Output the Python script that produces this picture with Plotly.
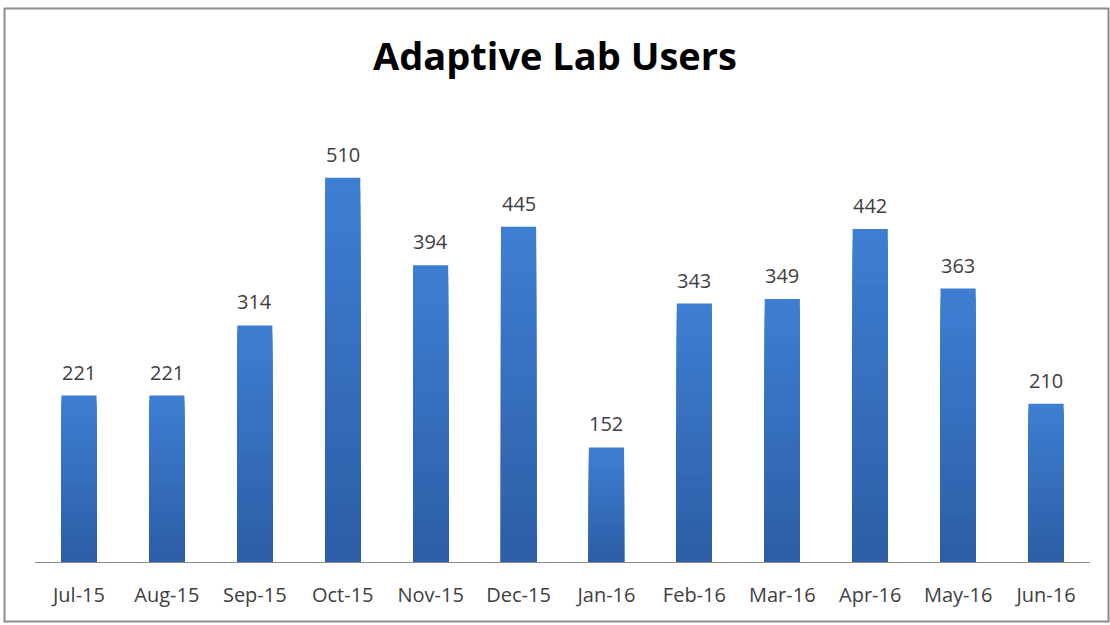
import plotly.graph_objects as go

months = ["Jul-15", "Aug-15", "Sep-15", "Oct-15", "Nov-15", "Dec-15",
          "Jan-16", "Feb-16", "Mar-16", "Apr-16", "May-16", "Jun-16"]
users = [221, 221, 314, 510, 394, 445, 152, 343, 349, 442, 363, 210]

W, H = 1110, 625
L, R, T, B = 35, 20, 110, 63
pw, ph = W - L - R, H - T - B

TOP_RGB = (62, 126, 210)
BOT_RGB = (44, 93, 164)
STEPS = 30

fig = go.Figure()
# vertical gradient fill: overlaid bars, each a fraction of the full bar
for k in range(STEPS, 0, -1):
    f = k / STEPS
    c = tuple(round(BOT_RGB[i] + (TOP_RGB[i] - BOT_RGB[i]) * f) for i in range(3))
    fig.add_trace(go.Bar(
        x=months, y=[v * f for v in users],
        marker=dict(color="rgb(%d,%d,%d)" % c, line=dict(width=0)),
        hoverinfo="skip" if k != STEPS else None,
    ))

for m, v in zip(months, users):
    fig.add_annotation(x=m, y=v, text=str(v), showarrow=False,
                       yanchor="bottom", yshift=8,
                       font=dict(family="Open Sans", size=20, color="#404040"))

# outer gray frame
x0 = (4.5 - L) / pw
x1 = (1108.5 - L) / pw
y0 = 1 - (621.5 - T) / ph
y1 = 1 - (8.5 - T) / ph
fig.add_shape(type="rect", xref="paper", yref="paper", x0=x0, x1=x1, y0=y0, y1=y1,
              line=dict(color="#8c8c8c", width=2), fillcolor="rgba(0,0,0,0)", layer="below")

fig.update_layout(
    width=W, height=H,
    margin=dict(l=L, r=R, t=T, b=B),
    paper_bgcolor="white", plot_bgcolor="white",
    title=dict(text="<b>Adaptive Lab Users</b>", x=0.5, xanchor="center",
               y=1 - 57 / H, yanchor="middle",
               font=dict(family="Open Sans", size=38, color="#000000")),
    barmode="overlay",
    bargap=0.6,
    showlegend=False,
    xaxis=dict(showgrid=False, showline=True, linecolor="#8c8c8c", linewidth=1,
               ticks="", ticklabelstandoff=15,
               tickfont=dict(family="Open Sans", size=20, color="#404040"),
               fixedrange=True),
    yaxis=dict(range=[0, 600], visible=False, showgrid=False, fixedrange=True),
)

fig.write_html("out.html")
